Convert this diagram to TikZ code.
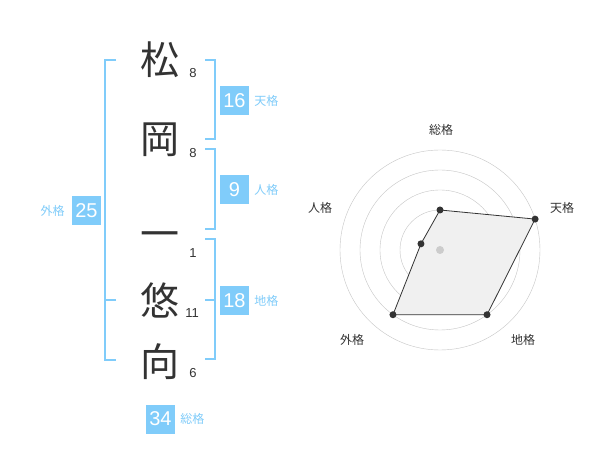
\documentclass[tikz,border=0pt]{standalone}
\usepackage{fontspec}
\setmainfont{Liberation Sans}
\newfontfamily\jp{Noto Sans CJK JP}
\usetikzlibrary{positioning}

\begin{document}
\begin{tikzpicture}[
        x=1pt, y=-1pt,  % one unit is one pixel, y runs down
        line join=miter,
        font=\jp
        ]

        % 1. Define colors to match the image
        \definecolor{myblue}{RGB}{128,204,250}
        \definecolor{mydark}{RGB}{51,51,51}
        \colorlet{mygrid}{gray!45}
        \colorlet{myfill}{gray!12}

        % 2. Styles
        \tikzset{
            namechar/.style={text=mydark, font=\jp\fontsize{39}{39}\selectfont, inner sep=0pt},
            strokes/.style={text=mydark, font=\fontsize{13}{13}\selectfont, inner sep=0pt},
            numbox/.style={fill=myblue, text=white, minimum size=29pt, inner sep=0pt,
                font=\fontsize{20}{20}\selectfont},
            boxlabel/.style={text=myblue, font=\jp\fontsize{12}{12}\selectfont, inner sep=0pt},
            bracket/.style={draw=myblue, line width=2pt},
            radarlabel/.style={text=mydark, font=\jp\fontsize{12}{12}\selectfont, inner sep=0pt},
            dot/.style={fill=mydark}
        }

        \useasboundingbox[fill=white] (0,0) rectangle (600,470);

        % 3. The name, one character per line, with its stroke count
        \node[namechar] (c1) at (160,60) {松};
        \node[namechar] (c2) at (160,140) {岡};
        \node[namechar] (c3) at (160,240) {一};
        \node[namechar] (c4) at (160,300) {悠};
        \node[namechar] (c5) at (160,362) {向};

        \node[strokes] (s1) at (193,73) {8};
        \node[strokes] (s2) at (193,153) {8};
        \node[strokes] (s3) at (193,253) {1};
        \node[strokes] (s4) at (192,313) {11};
        \node[strokes] (s5) at (193,373) {6};

        % 4. Brackets
        % Outer bracket on the left
        \coordinate (L_top) at (116,60);
        \coordinate (L_bot) at (116,360);
        \coordinate (L_mid) at (116,300);
        \draw[bracket] (L_top) -- (105,60) -- (105,360) -- (L_bot);
        \draw[bracket] (L_mid) -- (105,300);

        % Brackets on the right
        \draw[bracket] (205,60) -- (215,60) -- (215,139) -- (205,139);
        \draw[bracket] (205,149) -- (215,149) -- (215,229) -- (205,229);
        \draw[bracket] (205,239) -- (215,239) -- (215,359) -- (205,359);
        \draw[bracket] (205,300) -- (215,300);

        % 5. Number boxes and their labels
        \node[numbox] (ten) at (234.5,100.5) {16};
        \node[boxlabel, right=5pt of ten] (ten_l) {天格};

        \node[numbox] (jin) at (234.5,190) {9};
        \node[boxlabel, right=5pt of jin] (jin_l) {人格};

        \node[numbox] (chi) at (234.5,300.5) {18};
        \node[boxlabel, right=5pt of chi] (chi_l) {地格};

        \node[numbox] (gai) at (86.5,210.5) {25};
        \node[boxlabel, left=7pt of gai] (gai_l) {外格};

        \node[numbox] (sou) at (160.5,419) {34};
        \node[boxlabel, right=5pt of sou] (sou_l) {総格};

        % 6. Radar chart (y runs up inside this scope)
        \begin{scope}[shift={(440,250)}, y=1pt]
            \coordinate (O) at (0,0);

            % Grid circles
            \draw[mygrid, thin] (O) circle (20);
            \draw[mygrid, thin] (O) circle (40);
            \draw[mygrid, thin] (O) circle (60);
            \draw[mygrid, thin] (O) circle (80);
            \draw[mygrid, thin] (O) circle (100);

            % Data points
            \coordinate (P_sou) at (90:40);
            \coordinate (P_ten) at (18:100);
            \coordinate (P_chi) at (-54:80);
            \coordinate (P_gai) at (-126:80);
            \coordinate (P_jin) at (162:20);

            % Data polygon
            \draw[mydark, fill=myfill, line width=0.8pt]
                (P_sou) -- (P_ten) -- (P_chi) -- (P_gai) -- (P_jin) -- cycle;

            % Points on top
            \fill[gray!40] (O) circle (4);
            \fill[dot] (P_sou) circle (3.5);
            \fill[dot] (P_ten) circle (3.5);
            \fill[dot] (P_chi) circle (3.5);
            \fill[dot] (P_gai) circle (3.5);
            \fill[dot] (P_jin) circle (3.5);

            % Axis labels
            \node[radarlabel] (r_sou) at (1,120) {総格};
            \node[radarlabel] (r_ten) at (122,42) {天格};
            \node[radarlabel] (r_chi) at (83,-90) {地格};
            \node[radarlabel] (r_gai) at (-88,-90) {外格};
            \node[radarlabel] (r_jin) at (-120,42) {人格};
        \end{scope}
    \end{tikzpicture}
\end{document}
